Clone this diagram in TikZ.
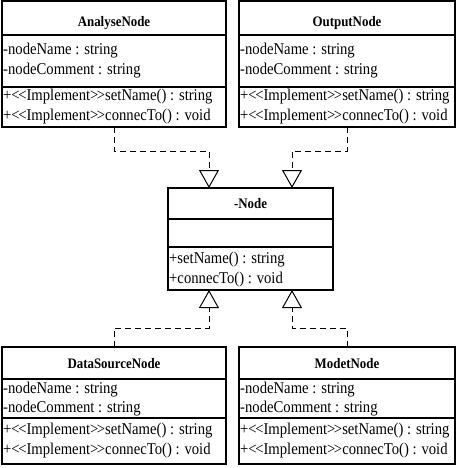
\documentclass[tikz,border=0pt]{standalone}
\usepackage{fontspec}
\setmainfont{Liberation Serif}[FakeStretch=0.89]
\usetikzlibrary{arrows.meta}

\newcommand{\impl}{+\textless\kern-1.5pt\textless Implement\textgreater\kern-1.5pt\textgreater}

\begin{document}
\begin{tikzpicture}[x=1pt, y=-1pt,
        classbox/.style={draw, line width=1.2pt, inner sep=0pt, outer sep=0pt},
        member/.style={anchor=base west, inner sep=0pt, font=\fontsize{16.5}{20}\selectfont},
        classname/.style={anchor=base, inner sep=0pt, font=\fontsize{14.5}{17}\selectfont\bfseries},
        realize/.style={line width=1pt, dash pattern=on 6pt off 4pt, -{Triangle[open, length=18pt, width=20pt]}}]
        \useasboundingbox (0,0) rectangle (457,468);

        % the class boxes
        \node[classbox, minimum width=224pt, minimum height=126pt] (analyse) at (114,64) {};
        \node[classbox, minimum width=216pt, minimum height=126pt] (output) at (347,64) {};
        \node[classbox, minimum width=165pt, minimum height=102pt] (base) at (250.5,239) {};
        \node[classbox, minimum width=224pt, minimum height=117pt] (datasrc) at (114,405.5) {};
        \node[classbox, minimum width=216pt, minimum height=117pt] (modet) at (347,405.5) {};

        % compartments
        \draw[line width=1.2pt] (analyse.west |- 0,35) -- (analyse.east |- 0,35);
        \draw[line width=1.2pt] (analyse.west |- 0,87) -- (analyse.east |- 0,87);
        \draw[line width=1.2pt] (output.west |- 0,35) -- (output.east |- 0,35);
        \draw[line width=1.2pt] (output.west |- 0,87) -- (output.east |- 0,87);
        \draw[line width=1.2pt] (base.west |- 0,219) -- (base.east |- 0,219);
        \draw[line width=1.2pt] (base.west |- 0,247) -- (base.east |- 0,247);
        \draw[line width=1.2pt] (datasrc.west |- 0,379) -- (datasrc.east |- 0,379);
        \draw[line width=1.2pt] (datasrc.west |- 0,418) -- (datasrc.east |- 0,418);
        \draw[line width=1.2pt] (modet.west |- 0,379) -- (modet.east |- 0,379);
        \draw[line width=1.2pt] (modet.west |- 0,418) -- (modet.east |- 0,418);

        % AnalyseNode
        \node[classname] (analyse-name) at (114,27) {AnalyseNode};
        \node[member] (analyse-a1) at (3,55) {-nodeName : string};
        \node[member] (analyse-a2) at (3,75) {-nodeComment : string};
        \node[member] (analyse-o1) at (3,101) {\impl setName() : string};
        \node[member] (analyse-o2) at (3,121) {\impl connecTo() : void};

        % OutputNode
        \node[classname] (output-name) at (347,27) {OutputNode};
        \node[member] (output-a1) at (240,55) {-nodeName : string};
        \node[member] (output-a2) at (240,75) {-nodeComment : string};
        \node[member] (output-o1) at (240,101) {\impl setName() : string};
        \node[member] (output-o2) at (240,121) {\impl connecTo() : void};

        % -Node
        \node[classname] (base-name) at (250.5,208) {-Node};
        \node[member] (base-o1) at (169,263) {+setName() : string};
        \node[member] (base-o2) at (169,283) {+connecTo() : void};

        % DataSourceNode
        \node[classname] (datasrc-name) at (114,368) {DataSourceNode};
        \node[member] (datasrc-a1) at (3,393) {-nodeName : string};
        \node[member] (datasrc-a2) at (3,412) {-nodeComment : string};
        \node[member] (datasrc-o1) at (3,434) {\impl setName() : string};
        \node[member] (datasrc-o2) at (3,454) {\impl connecTo() : void};

        % ModetNode
        \node[classname] (modet-name) at (347,368) {ModetNode};
        \node[member] (modet-a1) at (240,393) {-nodeName : string};
        \node[member] (modet-a2) at (240,412) {-nodeComment : string};
        \node[member] (modet-o1) at (240,434) {\impl setName() : string};
        \node[member] (modet-o2) at (240,454) {\impl connecTo() : void};

        % bends of the realization lines
        \coordinate (k1) at (209,151);
        \coordinate (k2) at (292,151);
        \coordinate (k3) at (209,328);
        \coordinate (k4) at (292,328);

        \draw[realize] (analyse.south) |- (k1) -- (k1 |- base.north);
        \draw[realize] (output.south) |- (k2) -- (k2 |- base.north);
        \draw[realize] (datasrc.north) |- (k3) -- (k3 |- base.south);
        \draw[realize] (modet.north) |- (k4) -- (k4 |- base.south);
    \end{tikzpicture}
\end{document}
